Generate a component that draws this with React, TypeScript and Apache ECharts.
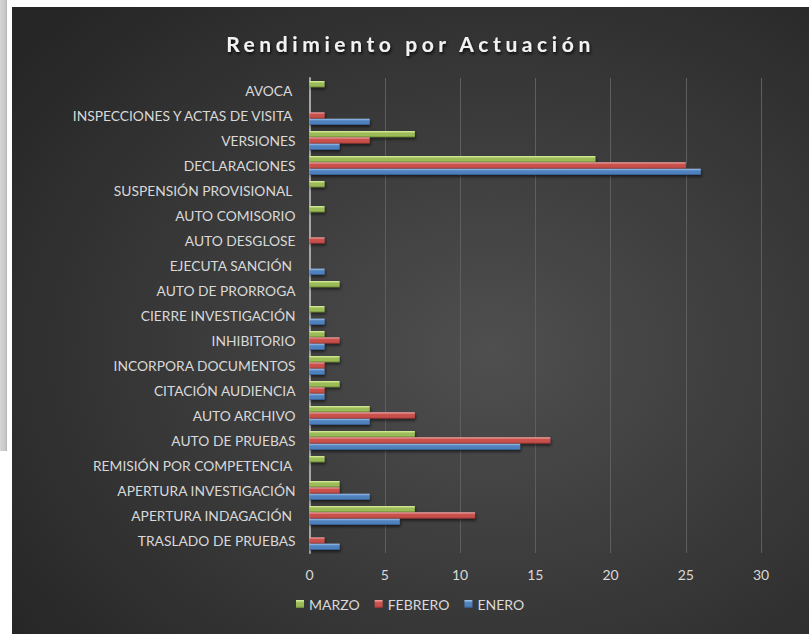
import React, { useEffect, useRef } from "react";
import * as echarts from "echarts";

const categories = [
  "TRASLADO DE PRUEBAS",
  "APERTURA INDAGACIÓN ",
  "APERTURA INVESTIGACIÓN",
  "REMISIÓN POR COMPETENCIA ",
  "AUTO DE PRUEBAS",
  "AUTO ARCHIVO",
  "CITACIÓN AUDIENCIA",
  "INCORPORA DOCUMENTOS",
  "INHIBITORIO",
  "CIERRE INVESTIGACIÓN",
  "AUTO DE PRORROGA",
  "EJECUTA SANCIÓN ",
  "AUTO DESGLOSE",
  "AUTO COMISORIO",
  "SUSPENSIÓN PROVISIONAL ",
  "DECLARACIONES",
  "VERSIONES",
  "INSPECCIONES Y ACTAS DE VISITA ",
  "AVOCA ",
];

const enero = [2, 6, 4, 0, 14, 4, 1, 1, 1, 1, 0, 1, 0, 0, 0, 26, 2, 4, 0];
const febrero = [1, 11, 2, 0, 16, 7, 1, 1, 2, 0, 0, 0, 1, 0, 0, 25, 4, 1, 0];
const marzo = [0, 7, 2, 1, 7, 4, 2, 2, 1, 1, 2, 0, 0, 1, 1, 19, 7, 0, 1];

const TITLE = "Rendimiento por Actuación";

function grad(top: string, mid: string, bottom: string) {
  return new echarts.graphic.LinearGradient(0, 0, 0, 1, [
    { offset: 0, color: top },
    { offset: 0.35, color: mid },
    { offset: 0.75, color: mid },
    { offset: 1, color: bottom },
  ]);
}

export default function App() {
  const ref = useRef<HTMLDivElement>(null);
  useEffect(() => {
    if (!ref.current) return;
    const chart = echarts.init(ref.current, null, { renderer: "svg" });
    const barCommon = {
      type: "bar" as const,
      barGap: "0%",
      barCategoryGap: "24%",
    };
    const shadow = {
      shadowBlur: 3,
      shadowColor: "rgba(0,0,0,0.55)",
      shadowOffsetX: 1,
      shadowOffsetY: 2,
    };
    chart.setOption({
      animation: false,
      backgroundColor: new echarts.graphic.RadialGradient(0.6, 0.55, 0.75, [
        { offset: 0, color: "#4f4f4f" },
        { offset: 1, color: "#262626" },
      ]),
      title: {
        text: TITLE,
        left: "center",
        top: 21,
        textStyle: {
          color: "#f2f2f2",
          fontFamily: "Lato",
          fontWeight: "bold",
          fontSize: 21,
          textShadowColor: "rgba(0,0,0,0.8)",
          textShadowBlur: 3,
          textShadowOffsetX: 1,
          textShadowOffsetY: 2,
        },
      },
      legend: {
        data: ["MARZO", "FEBRERO", "ENERO"],
        bottom: 18,
        left: 279,
        itemWidth: 8,
        itemHeight: 8,
        itemGap: 15,
        icon: "rect",
        textStyle: { color: "#d9d9d9", fontFamily: "Lato", fontSize: 14 },
      },
      grid: { left: 297.5, right: 48, top: 71, bottom: 81, containLabel: false },
      xAxis: {
        type: "value",
        min: 0,
        max: 30,
        interval: 5,
        axisLine: { show: false },
        axisTick: { show: false },
        axisLabel: { color: "#d9d9d9", fontFamily: "Lato", fontSize: 14, margin: 14 },
        splitLine: { show: true, lineStyle: { color: "#5e5e5e", width: 1 } },
      },
      yAxis: {
        type: "category",
        data: categories,
        axisLine: { show: true, lineStyle: { color: "#a6a6a6", width: 2 } },
        axisTick: { show: false },
        axisLabel: { color: "#d9d9d9", fontFamily: "Lato", fontSize: 13.8, margin: 14 },
        splitLine: { show: false },
      },
      series: [
        {
          ...barCommon,
          name: "MARZO",
          data: marzo,
          itemStyle: { color: grad("#dff3a0", "#9bbb59", "#66812f"), ...shadow },
        },
        {
          ...barCommon,
          name: "FEBRERO",
          data: febrero,
          itemStyle: { color: grad("#f3a7a4", "#c9504c", "#8a2f2d"), ...shadow },
        },
        {
          ...barCommon,
          name: "ENERO",
          data: enero,
          itemStyle: { color: grad("#a4c8f2", "#4f81bd", "#2f5283"), ...shadow },
        },
      ],
    });
    // widen title letter spacing like the original
    const texts = ref.current.querySelectorAll("text");
    texts.forEach((t) => {
      if (t.textContent === TITLE) {
        (t as SVGTextElement).style.letterSpacing = "4.6px";
      }
    });
    return () => chart.dispose();
  }, []);
  return (
    <div style={{ position: "absolute", left: 0, top: 0, width: 809, height: 634, background: "#fff" }}>
      <div
        style={{
          position: "absolute",
          left: 0,
          top: 0,
          width: 7,
          height: 451,
          background: "linear-gradient(90deg, #d6d6d6, #c4c4c4)",
          borderRight: "1px solid #b8b8b8",
          boxSizing: "border-box",
        }}
      />
      <div ref={ref} style={{ position: "absolute", left: 12, top: 7, width: 797, height: 627 }} />
    </div>
  );
}
